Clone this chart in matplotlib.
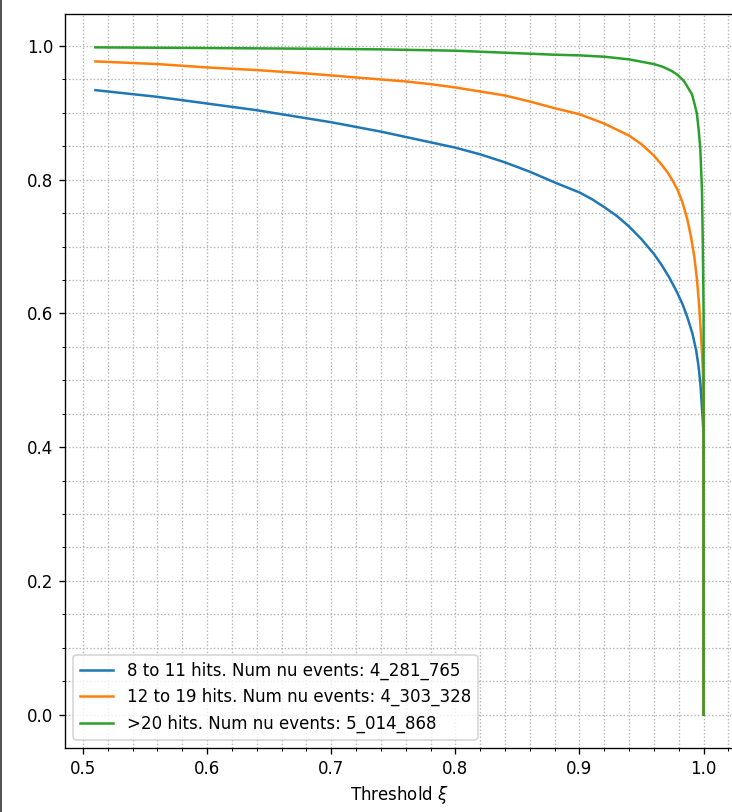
import numpy as np
import matplotlib
matplotlib.use("Agg")
import matplotlib.pyplot as plt
from matplotlib.lines import Line2D

# Values (threshold -> fraction kept)

x_low = [0.51, 0.54, 0.56, 0.58, 0.60, 0.62, 0.64, 0.66, 0.68, 0.70, 0.72, 0.74, 0.76,
         0.78, 0.80, 0.82, 0.84, 0.86, 0.88, 0.90, 0.91, 0.92, 0.93, 0.94, 0.95, 0.96,
         0.966, 0.972, 0.978, 0.983, 0.987, 0.991, 0.994, 0.996, 0.9975, 0.999, 1.0, 1.0]
y_low = [0.934, 0.928, 0.924, 0.919, 0.914, 0.909, 0.904, 0.898, 0.892, 0.886, 0.879, 0.872, 0.864,
         0.856, 0.848, 0.838, 0.826, 0.812, 0.796, 0.781, 0.771, 0.759, 0.746, 0.730, 0.711, 0.689,
         0.673, 0.655, 0.634, 0.614, 0.594, 0.570, 0.545, 0.520, 0.493, 0.450, 0.420, 0.0]

x_mid = [0.51, 0.56, 0.60, 0.62, 0.64, 0.68, 0.70, 0.74, 0.76, 0.78, 0.80, 0.82, 0.84, 0.86,
         0.88, 0.90, 0.92, 0.94, 0.95, 0.96, 0.966, 0.971, 0.975, 0.979, 0.983, 0.987, 0.990,
         0.9925, 0.9946, 0.9965, 0.998, 0.9993, 1.0, 1.0]
y_mid = [0.977, 0.973, 0.968, 0.966, 0.964, 0.959, 0.956, 0.950, 0.947, 0.943, 0.938, 0.932, 0.926, 0.917,
         0.907, 0.898, 0.884, 0.866, 0.853, 0.836, 0.823, 0.811, 0.799, 0.785, 0.766, 0.740, 0.713,
         0.685, 0.652, 0.610, 0.565, 0.520, 0.480, 0.0]

x_high = [0.51, 0.60, 0.68, 0.74, 0.80, 0.84, 0.88, 0.90, 0.92, 0.94, 0.96, 0.967, 0.974,
          0.979, 0.984, 0.987, 0.9906, 0.9925, 0.9946, 0.996, 0.9973, 0.9987, 0.9994, 1.0, 1.0]
y_high = [0.998, 0.997, 0.996, 0.995, 0.993, 0.990, 0.987, 0.986, 0.984, 0.980, 0.973, 0.969, 0.963,
          0.957, 0.948, 0.939, 0.928, 0.915, 0.899, 0.875, 0.848, 0.784, 0.700, 0.600, 0.0]

labels = ["8 to 11 hits. Num nu events: 4_281_765",
          "12 to 19 hits. Num nu events: 4_303_328",
          ">20 hits. Num nu events: 5_014_868"]

fig = plt.figure(figsize=(7.32 / 1.2, 8.12 / 1.2), dpi=120)
# the reference is cropped just left of the right spine
ax = fig.add_axes([65 / 732, 1 - 748 / 812, 669 / 732, 734 / 812])

ax.plot(x_low, y_low, label=labels[0])
ax.plot(x_mid, y_mid, label=labels[1])
ax.plot(x_high, y_high, label=labels[2])

ax.minorticks_on()
ax.grid(which="both", linestyle=":")
ax.set_xlabel(r"Threshold $\xi$")
ax.legend(loc="lower left")

# thin screenshot border on the left
fig.add_artist(Line2D([0.001, 0.001], [0, 1], color="#555555", lw=1.2))

fig.savefig("out.png", dpi=120)
